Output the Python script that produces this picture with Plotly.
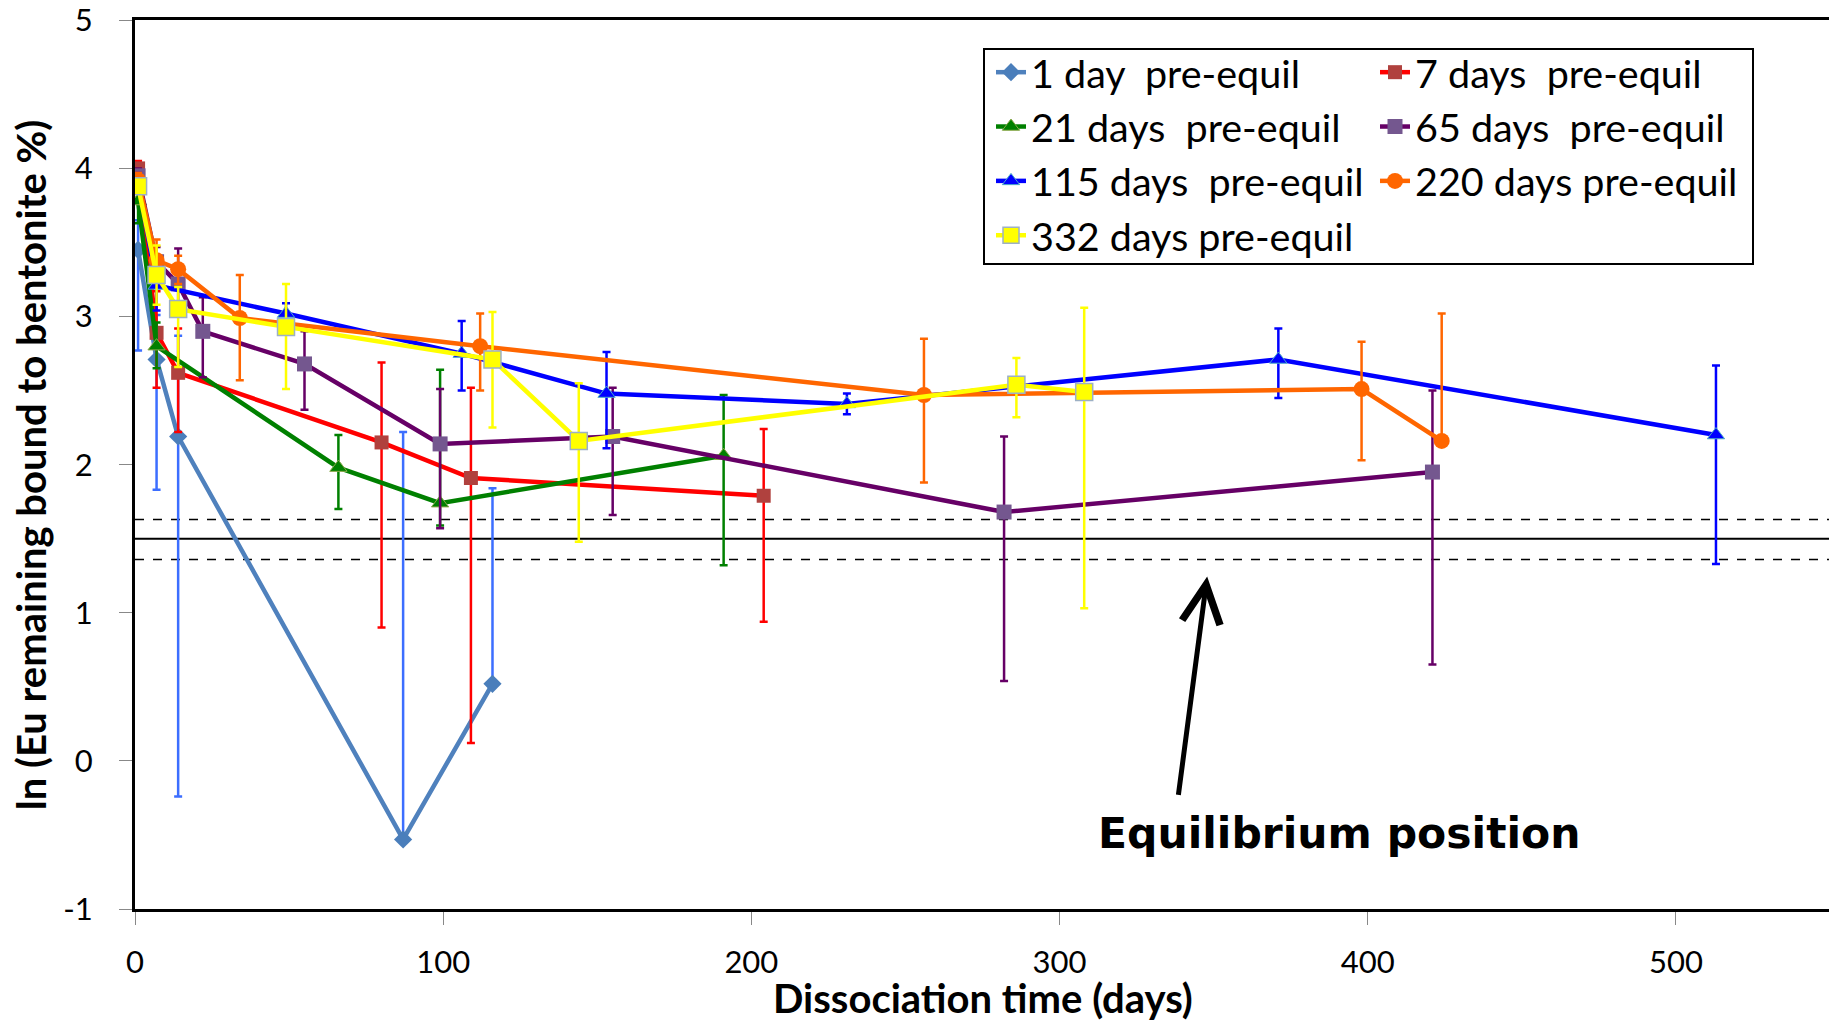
import plotly.graph_objects as go

# ---------------- data ----------------
series_names = ["1 day  pre-equil", "7 days  pre-equil", "21 days  pre-equil",
                "65 days  pre-equil", "115 days  pre-equil", "220 days pre-equil",
                "332 days pre-equil"]

d1_x = [1, 7, 14, 87, 116]
d1_y = [3.45, 2.71, 2.19, -0.53, 0.52]
d1_ep = [0.20, 0.30, 0.68, 2.75, 1.32]
d1_em = [0.68, 0.88, 2.43, 0.0, 0.0]

d7_x = [1, 7, 14, 80, 109, 204]
d7_y = [4.00, 2.89, 2.62, 2.15, 1.91, 1.79]
d7_ep = [0.05, 0.28, 0.30, 0.54, 0.61, 0.45]
d7_em = [0.05, 0.37, 0.40, 1.25, 1.79, 0.85]

d21_x = [1, 7, 66, 99, 191]
d21_y = [3.78, 2.80, 1.98, 1.74, 2.06]
d21_ep = [0.10, 0.16, 0.22, 0.90, 0.41]
d21_em = [0.15, 0.15, 0.28, 0.15, 0.74]

d65_x = [1, 7, 14, 22, 55, 99, 155, 282, 421]
d65_y = [3.95, 3.37, 3.22, 2.90, 2.68, 2.14, 2.19, 1.68, 1.95]
d65_ep = [0.05, 0.10, 0.24, 0.23, 0.22, 0.37, 0.33, 0.51, 0.55]
d65_em = [0.05, 0.10, 0.20, 0.31, 0.31, 0.57, 0.53, 1.14, 1.30]

d115_x = [1, 7, 49, 106, 153, 231, 371, 513]
d115_y = [3.92, 3.21, 3.02, 2.75, 2.48, 2.41, 2.71, 2.20]
d115_ep = [0.05, 0.10, 0.07, 0.22, 0.28, 0.07, 0.21, 0.47]
d115_em = [0.05, 0.17, 0.07, 0.25, 0.37, 0.07, 0.26, 0.87]

d220_x = [1, 7, 14, 34, 112, 256, 398, 424]
d220_y = [3.92, 3.38, 3.32, 2.99, 2.80, 2.47, 2.51, 2.16]
d220_ep = [0.05, 0.14, 0.09, 0.29, 0.22, 0.38, 0.32, 0.86]
d220_em = [0.05, 0.10, 0.10, 0.42, 0.30, 0.59, 0.48, 0.0]

d332_x = [1, 7, 14, 49, 116, 144, 286, 308]
d332_y = [3.88, 3.28, 3.05, 2.93, 2.71, 2.16, 2.54, 2.49]
d332_ep = [0.05, 0.20, 0.15, 0.29, 0.32, 0.39, 0.18, 0.57]
d332_em = [0.05, 0.20, 0.39, 0.42, 0.46, 0.68, 0.22, 1.46]

eq_value = 1.50
eq_upper = 1.63
eq_lower = 1.36

x_ticks = [0, 100, 200, 300, 400, 500]
y_ticks = [-1, 0, 1, 2, 3, 4, 5]
y_tick_labels = ["-1", "0", "1", "2", "3", "4", "5"]

# ---------------- styles ----------------
FONT = "Lato, 'Open Sans', sans-serif"
styles = [
    dict(line="#4F81BD", marker="#4A7EBB", mline="#4A7EBB", mlw=0, sym="diamond", size=14, err="#3C6EFF", legend="legend"),
    dict(line="#FF0000", marker="#B0413E", mline="#B0413E", mlw=0, sym="square", size=14, err="#FF0000", legend="legend2"),
    dict(line="#008000", marker="#008000", mline="#8AA84A", mlw=1, sym="triangle-up", size=15, err="#008000", legend="legend"),
    dict(line="#660066", marker="#74578F", mline="#74578F", mlw=0, sym="square", size=15, err="#660066", legend="legend2"),
    dict(line="#0000FF", marker="#0000FF", mline="#4BACC6", mlw=1, sym="triangle-up", size=15, err="#0000FF", legend="legend"),
    dict(line="#FF6600", marker="#FF6600", mline="#FF6600", mlw=0, sym="circle", size=16, err="#FF6600", legend="legend2"),
    dict(line="#FFFF00", marker="#FFFF00", mline="#9DB0C4", mlw=1.5, sym="square", size=17, err="#FFFF00", legend="legend"),
]
data = [
    (d1_x, d1_y, d1_ep, d1_em),
    (d7_x, d7_y, d7_ep, d7_em),
    (d21_x, d21_y, d21_ep, d21_em),
    (d65_x, d65_y, d65_ep, d65_em),
    (d115_x, d115_y, d115_ep, d115_em),
    (d220_x, d220_y, d220_ep, d220_em),
    (d332_x, d332_y, d332_ep, d332_em),
]

fig = go.Figure()
for name, (xs, ys, ep, em), st in zip(series_names, data, styles):
    fig.add_trace(go.Scatter(
        x=xs, y=ys, name=name, mode="lines+markers",
        line=dict(color=st["line"], width=4.5),
        marker=dict(symbol=st["sym"], size=st["size"], color=st["marker"],
                    line=dict(color=st["mline"], width=st["mlw"])),
        error_y=dict(type="data", symmetric=False, array=ep, arrayminus=em,
                     color=st["err"], thickness=2.5, width=4),
        legend=st["legend"],
    ))

# equilibrium reference lines
fig.add_hline(y=eq_value, line=dict(color="black", width=2), layer="below")
fig.add_hline(y=eq_upper, line=dict(color="black", width=1.5, dash="dash"), layer="below")
fig.add_hline(y=eq_lower, line=dict(color="black", width=1.5, dash="dash"), layer="below")

# legend frame
fig.add_shape(type="rect", xref="paper", yref="paper",
              x0=(984 - 135) / 1695, x1=(1753 - 135) / 1695,
              y0=(909 - 264) / 889, y1=(909 - 49) / 889,
              line=dict(color="black", width=2), fillcolor="rgba(0,0,0,0)")

# arrow + label
fig.add_annotation(x=347.9, y=1.245, ax=338.5, ay=-0.24, axref="x", ayref="y",
                   xref="x", yref="y", text="", showarrow=True,
                   arrowhead=5, arrowsize=1.5, arrowwidth=5, arrowcolor="black")
fig.add_annotation(x=391, y=-0.49, xref="x", yref="y", text="<b>Equilibrium position</b>",
                   showarrow=False, font=dict(family="DejaVu Sans", size=42.5, color="black"))

# axis titles
fig.add_annotation(x=0.5, y=-0.1003, xref="paper", yref="paper", yanchor="middle",
                   text="<b>Dissociation time (days)</b>", showarrow=False, borderpad=0,
                   font=dict(family=FONT, size=40, color="black"))
fig.add_annotation(x=-0.0612, y=0.4994, xref="paper", yref="paper", textangle=-90,
                   xanchor="center", yanchor="middle", borderpad=0,
                   text="<b>ln (Eu remaining bound to bentonite %)</b>", showarrow=False,
                   font=dict(family=FONT, size=40, color="black"))

legend_common = dict(bgcolor="rgba(0,0,0,0)", borderwidth=0, orientation="v",
                     font=dict(family=FONT, size=39.5, color="black"),
                     xanchor="left", yanchor="top", itemwidth=30, traceorder="normal")

# the page adds an 8px body margin, so the figure is drawn 8px smaller
fig.update_layout(
    width=1829, height=1015,
    margin=dict(l=127, r=7, t=12, b=114),
    paper_bgcolor="white", plot_bgcolor="white",
    showlegend=True,
    legend=dict(x=(991 - 135) / 1695, y=(909 - 40) / 889, **legend_common),
    legend2=dict(x=(1375 - 135) / 1695, y=(909 - 40) / 889, **legend_common),
    xaxis=dict(range=[0, 550], tickvals=x_ticks, ticks="outside", ticklen=13,
               tickcolor="#888888", tickwidth=1, showgrid=False, zeroline=False,
               showline=True, linecolor="black", linewidth=3, mirror=True, automargin=False,
               ticklabeloverflow="allow",
               tickfont=dict(family=FONT, size=31, color="black"), ticklabelstandoff=11),
    yaxis=dict(range=[-1, 5.002], tickvals=y_ticks, ticktext=y_tick_labels, ticks="outside",
               ticklen=13, tickcolor="#888888", tickwidth=1, showgrid=False, zeroline=False,
               showline=True, linecolor="black", linewidth=3, mirror=True, automargin=False,
               ticklabeloverflow="allow",
               tickfont=dict(family=FONT, size=31, color="black"), ticklabelstandoff=20),
)

fig.write_html("out.html")
